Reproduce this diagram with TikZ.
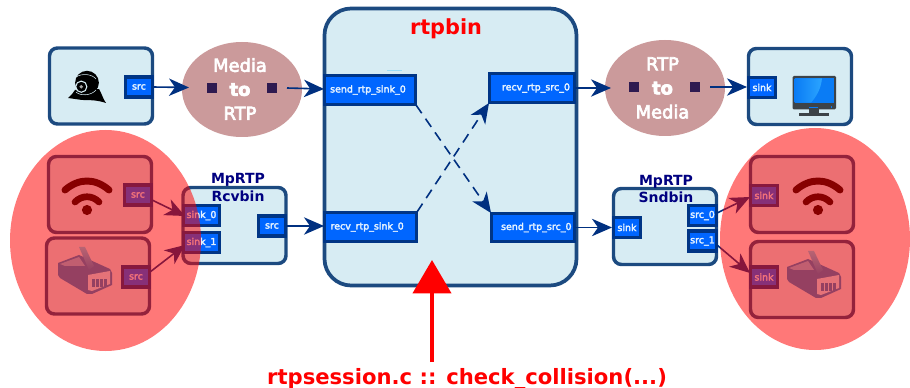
\documentclass[tikz,border=0pt]{standalone}
\usepackage{fontspec}
\setmainfont{DejaVu Sans}
\newfontfamily\medfont[FakeBold=4]{DejaVu Sans}
\newfontfamily\smallmedfont[FakeBold=3]{DejaVu Sans}
\usetikzlibrary{arrows.meta,shapes.geometric}
\definecolor{boxline}{HTML}{1C4A80}
\definecolor{boxfill}{HTML}{D7ECF3}
\definecolor{portline}{HTML}{003585}
\definecolor{portfill}{HTML}{0066FF}
\definecolor{conv}{HTML}{CB9A9B}
\definecolor{convsq}{HTML}{2E1A50}
\definecolor{arrowblue}{HTML}{003080}
\definecolor{titlenavy}{HTML}{000080}
\definecolor{portlabel}{HTML}{E4F2FF}
\definecolor{ethbody}{HTML}{1F8AD0}
\definecolor{ethpale}{HTML}{7CC8EE}
\definecolor{ethface}{HTML}{C8F4FF}
\definecolor{ethtab}{HTML}{6AD5F5}
\definecolor{monitorgrey}{HTML}{3D4348}
\definecolor{screenblue}{HTML}{0A7CF5}
\definecolor{screenlight}{HTML}{2BA5FF}
\tikzset{
  x=0.75pt,y=-0.75pt,
  boxsize/.style 2 args={minimum width=#1*0.75pt,minimum height=#2*0.75pt},
  element/.style={draw=boxline,fill=boxfill,line width=2.6pt,rounded corners=6pt,inner sep=0pt,outer sep=0pt},
  padbox/.style={draw=portline,fill=portfill,line width=2.4pt,inner sep=0pt,outer sep=0pt,text=portlabel,font=\smallmedfont\fontsize{7.1pt}{8pt}\selectfont},
  converter/.style={ellipse,fill=conv,inner sep=0pt,outer sep=0pt},
  convsquare/.style={fill=convsq,inner sep=0pt,outer sep=0pt,minimum size=7.5pt},
  convtext/.style={align=center,text=white,inner sep=0pt,font=\medfont\fontsize{13.4pt}{18pt}\selectfont},
  bintitle/.style={align=center,text=titlenavy,inner sep=0pt,font=\bfseries\fontsize{10.5pt}{12.8pt}\selectfont},
  link/.style={draw=arrowblue,line width=1.2pt,-{Stealth[length=15pt,width=13pt,inset=4.5pt]}},
  dashlink/.style={link,dash pattern=on 7.5pt off 5pt},
  redzone/.style={ellipse,fill=red,fill opacity=0.53,inner sep=0pt,outer sep=0pt},
}
\newcommand{\wifiicon}[2]{%
  \begin{scope}[shift={(#1,#2)}]
    \draw[black,line width=5.2pt,line cap=round] (-22,-20) .. controls (-8,-32) and (8,-32) .. (22,-20);
    \draw[black,line width=5pt,line cap=round] (-12,-8) .. controls (-5,-15) and (5,-15) .. (12,-8);
    \fill[black] (0,0) circle[radius=3.8pt];
  \end{scope}}
\newcommand{\ethicon}[2]{%
  \begin{scope}[shift={(#1,#2)}]
    \fill[ethbody] (-27,-14) -- (-6,-22) -- (25,-8) -- (27,-4) -- (27,8) -- (7,17) -- (2,17) -- (-25,1) -- (-27,-2) -- cycle;
    \fill[ethpale] (-25,-13) -- (-6,-20) -- (0,-11) -- (-20,-11) -- cycle;
    \shade[top color=ethtab,bottom color=ethbody] (-6,-30) -- (0,-30) -- (9,-11) -- (4,-7) -- cycle;
    \fill[ethface] (3,-2) -- (25,-6) -- (25,7) -- (7,14) -- (3,13) -- cycle;
    \foreach \q in {7,11,15,19}{\fill[ethbody] (\q,2) rectangle (\q+2.5,10);}
  \end{scope}}
\begin{document}
\begin{tikzpicture}
\useasboundingbox (0,0) rectangle (910,388);
% elements
\node[element,boxsize={103}{76}] (cam) at (101,86) {};
\node[element,boxsize={103}{76}] (wifiL) at (100,194.5) {};
\node[element,boxsize={103}{76}] (ethL) at (98,276) {};
\node[element,boxsize={103}{76}] (rcv) at (234.5,225.5) {};
\node[element,boxsize={103}{76}] (snd) at (665,226.5) {};
\node[element,boxsize={103}{76}] (tv) at (800,86.5) {};
\node[element,boxsize={103}{76}] (wifiR) at (802,194.5) {};
\node[element,boxsize={103}{76}] (ethR) at (802,279.5) {};
\node[element,line width=2.8pt,rounded corners=20pt,boxsize={252}{277}] (rtpbin) at (450.5,147) {};
\node[text=red,inner sep=0pt,font=\bfseries\fontsize{15.6pt}{18pt}\selectfont] (rtptitle) at (446,29) {rtpbin};
\draw[cyan!40!white,line width=.7pt] (387,70) -- (402,70);
% converters
\node[converter,boxsize={120}{95}] (m2r) at (242,89.5) {};
\node[converter,boxsize={120}{96}] (r2m) at (665,88) {};
\node[convsquare] (m2rL) at (212,88) {};
\node[convsquare] (m2rR) at (272,88) {};
\node[convsquare] (r2mL) at (634,87) {};
\node[convsquare] (r2mR) at (695,87) {};
\node[convtext] (m2rT) at (240,89) {Media\\\textbf{to}\\RTP};
\node[convtext] (r2mT) at (662.5,88) {RTP\\\textbf{to}\\Media};
% titles
\node[bintitle] (rcvT) at (238,187.5) {MpRTP\\Rcvbin};
\node[bintitle] (sndT) at (666,189) {MpRTP\\Sndbin};
% ports
\node[padbox,boxsize={27}{20}] (camsrc) at (139,87) {src};
\node[padbox,boxsize={27}{20}] (wifiLsrc) at (138,195) {src};
\node[padbox,boxsize={27}{20}] (ethLsrc) at (136,277) {src};
\node[padbox,boxsize={36}{20}] (sink0) at (201.5,215.5) {sink\_0};
\node[padbox,boxsize={36}{20}] (sink1) at (201.5,242.5) {sink\_1};
\node[padbox,boxsize={27}{20}] (rcvsrc) at (272,226) {src};
\node[padbox,boxsize={91}{29}] (sendsink) at (370,90) {\hspace*{-3pt}send\_rtp\_sink\_0};
\node[padbox,boxsize={85}{29}] (recvsrc) at (532,88) {\hspace*{6pt}recv\_rtp\_src\_0};
\node[padbox,boxsize={92}{29}] (recvsink) at (370.5,227) {\hspace*{-5pt}recv\_rtp\_sink\_0};
\node[padbox,boxsize={83}{28}] (sendsrc) at (533,227.5) {\hspace*{5pt}send\_rtp\_src\_0};
\node[padbox,boxsize={27}{20}] (sndsink) at (627,227.5) {sink};
\node[padbox,boxsize={28}{20}] (src0) at (702.5,215.5) {src\_0};
\node[padbox,boxsize={28}{20}] (src1) at (702.5,241) {src\_1};
\node[padbox,boxsize={27}{20}] (tvsink) at (762,87.5) {sink};
\node[padbox,boxsize={27}{20}] (wifiRsink) at (764,195.5) {sink};
\node[padbox,boxsize={27}{20}] (ethRsink) at (764,277) {sink};
% webcam
\begin{scope}
  \fill[black] (68,98) .. controls (71,96) and (73,93) .. (75,90) -- (99,89) .. controls (102,94) and (103,99) .. (106,103) .. controls (97,100) and (90,100) .. (82,100) -- cycle;
  \fill[black] (87,82.7) circle[radius=8.9pt];
  \draw[boxfill,line width=.8pt] (81.3,86.7) circle[radius=4.2pt];
  \draw[boxfill,line width=.4pt] (76,77) .. controls (82,73) and (92,74) .. (96,79);
  \draw[boxfill,line width=.4pt] (76,92) .. controls (80,96) and (91,96) .. (96,90);
  \fill[black!35] (81.3,86.7) circle[radius=1.4pt];
\end{scope}
% monitor
\begin{scope}
  \fill[monitorgrey] (809,108) rectangle (819,114);
  \fill[monitorgrey] (799.3,113.3) rectangle (828.7,115.7);
  \fill[monitorgrey,rounded corners=.8pt] (792.7,76) rectangle (836,109.3);
  \fill[screenblue] (794.7,78.3) rectangle (834,102.7);
  \shade[left color=screenblue,right color=screenlight] (794.7,78.3) -- (822,78.3) .. controls (821,90) and (815,98) .. (811,102.7) -- (794.7,102.7) -- cycle;
  \fill[screenblue] (809,107) rectangle (818,108.2);
  \fill[screenblue] (830.5,106.5) rectangle (832,108.2);
\end{scope}
\wifiicon{87}{210}
\wifiicon{818}{210}
\ethicon{85}{277}
\ethicon{814}{281}
% connector ends
\coordinate (m2rIn) at (189,87.5);
\coordinate (m2rOut) at (287,88);
\coordinate (r2mIn) at (611,88);
\coordinate (r2mOut) at (710,87);
\coordinate (sendIn) at (324,89);
\coordinate (recvIn) at (324,226);
\coordinate (sndIn) at (612,227.5);
\coordinate (rcvOut0) at (185,216);
\coordinate (rcvOut1) at (185,245);
\coordinate (wifiOut) at (152,200);
\coordinate (ethOut) at (150,272);
\coordinate (snd0Out) at (717,213);
\coordinate (snd1Out) at (717,245);
\coordinate (wifiIn) at (750,197);
\coordinate (ethIn) at (750,273);
\coordinate (tvIn) at (747,87);
\coordinate (dashA) at (416,105);
\coordinate (dashB) at (491,213);
\coordinate (dashC) at (417,212);
\coordinate (dashD) at (489,103);
\coordinate (alertBase) at (432,362);
\coordinate (alertTip) at (432,260);
% connectors
\draw[link] (camsrc.east) -- (m2rIn);
\draw[link] (m2rOut) -- (sendIn);
\draw[link] (recvsrc.east) -- (r2mIn);
\draw[link] (r2mOut) -- (tvIn);
\draw[link] (rcvsrc.east) -- (recvIn);
\draw[link] (sendsrc.east) -- (sndIn);
\draw[link] (wifiOut) -- (rcvOut0);
\draw[link] (ethOut) -- (rcvOut1);
\draw[link] (snd0Out) -- (wifiIn);
\draw[link] (snd1Out) -- (ethIn);
\draw[dashlink] (dashA) -- (dashB);
\draw[dashlink] (dashC) -- (dashD);
% overlays
\node[redzone,boxsize={191}{221}] (zoneL) at (105.5,240.5) {};
\node[redzone,boxsize={190}{222}] (zoneR) at (815,239) {};
\draw[red,line width=3pt,-{Triangle[length=25pt,width=28.5pt]}] (alertBase) -- (alertTip);
\node[text=red,inner sep=0pt,font=\bfseries\fontsize{15.85pt}{18pt}\selectfont] (alertT) at (467,379) {rtpsession.c :: check\_collision(...)};
\end{tikzpicture}
\end{document}
